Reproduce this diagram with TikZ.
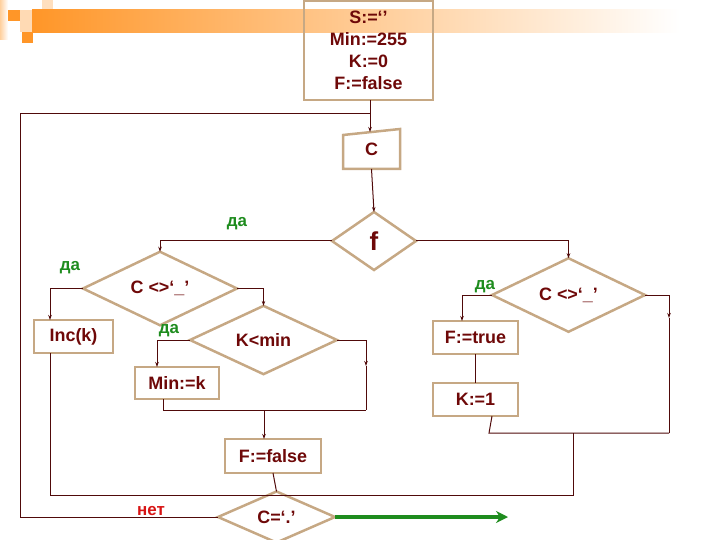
\documentclass[tikz,border=0pt]{standalone}
\usepackage{fontspec}
\setmainfont{Liberation Sans}
\usetikzlibrary{shapes.geometric,arrows.meta,calc}
\definecolor{txtred}{RGB}{110,8,8}
\definecolor{boxtan}{RGB}{198,168,132}
\definecolor{wirec}{RGB}{80,10,10}
\definecolor{dagreen}{RGB}{30,140,30}
\definecolor{netred}{RGB}{215,20,20}
\definecolor{decor}{RGB}{255,150,40}
\tikzset{
  lbl/.style={text=txtred, font=\fontsize{18}{22}\selectfont\bfseries, inner sep=0pt, outer sep=0pt},
  procbox/.style={lbl, draw=boxtan, line width=2.5bp, rectangle},
  decision/.style={lbl, draw=boxtan, line width=2.5bp, diamond},
  wire/.style={draw=wirec, line width=1bp},
  arr/.style={wire, -{Stealth[length=5bp,width=3.5bp]}},
  garr/.style={draw=dagreen, line width=4bp, -{Stealth[length=12bp,width=12bp]}},
  yes/.style={text=dagreen, font=\fontsize{17}{20}\selectfont\bfseries, inner sep=0pt},
  nolbl/.style={text=netred, font=\fontsize{17}{20}\selectfont\bfseries, inner sep=0pt}
}
\begin{document}
\begin{tikzpicture}[x=1bp,y=-1bp]
\useasboundingbox (0,0) rectangle (720,540);
% decoration
\shade[left color=decor!45, right color=white] (0,0) rectangle (8,40);
\fill[decor!35] (20,10) rectangle (32,32);
\fill[decor!30] (42,0) rectangle (53,10);
\fill[decor] (8,10) rectangle (20,21);
\fill[decor] (22,32) rectangle (33,43);
\shade[left color=decor, right color=white] (32,10) rectangle (680,33);

% nodes
\node[procbox, minimum width=129bp, minimum height=99bp, align=center] (init) at (368.5,50.5) {S:=‘’\\Min:=255\\K:=0\\F:=false};
\node[lbl, minimum width=57bp, minimum height=40bp] (cin) at (371.5,149) {C};
\draw[boxtan, line width=2.5bp] ($(cin.north west)+(0,6)$) -- (cin.north east) -- (cin.south east) -- (cin.south west) -- cycle;
\node[decision, minimum width=84bp, minimum height=58bp, font=\fontsize{26}{28}\selectfont\bfseries] (f) at (374,241) {f};
\node[decision, minimum width=154bp, minimum height=50bp] (l1) at (160,288.5) {C <>‘\_’};
\node[decision, minimum width=147bp, minimum height=50bp] (kmin) at (263.5,340) {K<min};
\node[decision, minimum width=153bp, minimum height=50bp] (r1) at (568.5,295) {C <>‘\_’};
\node[decision, minimum width=117bp, minimum height=44bp] (ce) at (276.5,517) {C=‘.’};
\node[procbox, minimum width=79bp, minimum height=33bp] (inc) at (73.5,336.5) {Inc(k)};
\node[procbox, minimum width=84bp, minimum height=32bp] (mink) at (177,383) {Min:=k};
\node[procbox, minimum width=96bp, minimum height=34bp] (ff) at (273,456) {F:=false};
\node[procbox, minimum width=85bp, minimum height=33bp] (ft) at (475.5,337.5) {F:=true};
\node[procbox, minimum width=85bp, minimum height=33bp] (k1) at (475.5,399.5) {K:=1};

% labels
\node[yes] (y1) at (237,224) {да};
\node[yes] (y2) at (70,268) {да};
\node[yes] (y3) at (169,331) {да};
\node[yes] (y4) at (485,287) {да};
\node[nolbl] (n1) at (151,511) {нет};

% coordinates
\coordinate (j) at (370,114);
\coordinate (cintop) at (370,132);
\coordinate (lbot) at (20,517);
\coordinate (ltop) at (20,114);
\coordinate (incin) at (50,320);
\coordinate (incout) at (50,353);
\coordinate (minin) at (157,367);
\coordinate (minout) at (163,399);
\coordinate (kr) at (366,366);
\coordinate (krb) at (366,410);
\coordinate (ffin) at (264,410);
\coordinate (mrg) at (573,495);
\coordinate (rj) at (573,433);
\coordinate (ftin) at (462,321);
\coordinate (k1out) at (492,416);
\coordinate (rloop) at (489,433);
\coordinate (rbot) at (669,433);
\coordinate (rr) at (669,318);
\coordinate (gend) at (508,517);

% connectors
\draw[arr] (init.south -| j) -- (cintop);
\draw[wire] (ce.west) -- (lbot) -- (ltop) -- (j);
\draw[arr] (cin.south) -- (f.north);
\draw[arr] (f.west) -| (l1.north);
\draw[arr] (f.east) -| (r1.north);
\draw[arr] (l1.west) -| (incin);
\draw[arr] (l1.east) -| (kmin.north);
\draw[arr] (kmin.west) -| (minin);
\draw[arr] (kmin.east) -| (kr);
\draw[wire] (kr) -- (krb);
\draw[wire] (minout) |- (krb);
\draw[arr] (ffin) -- (ffin |- ff.north);
\draw[wire] (ff.south) -- (ce.north);
\draw[wire] (incout) |- (mrg) -- (rj);
\draw[arr] (r1.west) -| (ftin);
\draw[wire] (ft.south) -- (k1.north);
\draw[wire] (k1out) -- (rloop) -- (rbot);
\draw[arr] (r1.east) -| (rr);
\draw[wire] (rr) -- (rbot);
\draw[garr] (ce.east) -- (gend);
\end{tikzpicture}
\end{document}
